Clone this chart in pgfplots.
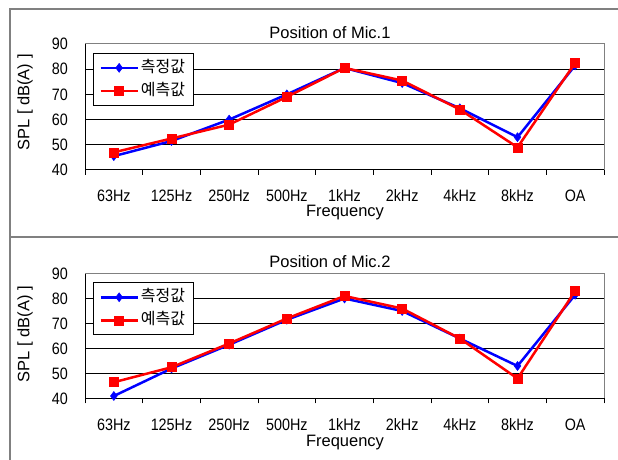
\documentclass[border=0pt]{standalone}
\usepackage{pgfplots}
\pgfplotsset{compat=1.18}
\usepackage{fontspec}
\setmainfont{Liberation Sans}
\newfontfamily\narrowfont[FakeStretch=0.87]{Liberation Sans}
\newfontfamily\kr{Noto Sans CJK KR}
\definecolor{pblue}{RGB}{0,0,255}
\definecolor{pred}{RGB}{255,0,0}
\definecolor{frame}{RGB}{128,128,128}
\newcommand{\tickfont}{\narrowfont\fontsize{16.5}{18}\selectfont}
\newcommand{\labfont}{\fontsize{16.5}{19}\selectfont}
\pgfplotsset{
  spl/.style={
    anchor=south west, width=519pt, scale only axis,
    xmin=0.5, xmax=9.5, ymin=40, ymax=90, clip=false,
    axis lines*=left, axis line style={black, line width=1pt},
    xtick={1,...,9},
    xticklabels={63Hz,125Hz,250Hz,500Hz,1kHz,2kHz,4kHz,8kHz,OA},
    major tick length=0pt,
    minor xtick={0.5,1.5,...,9.5},
    minor tick length=5pt, tick align=outside,
    minor x tick style={black, line width=1pt},
    ytick={40,50,...,90},
    ymajorgrids, grid style={black, line width=1pt},
    /pgf/number format/assume math mode=true,
    xticklabel style={font=\tickfont, anchor=base, inner sep=0pt, yshift=-31.5pt},
    yticklabel style={font=\tickfont, anchor=east, inner sep=0pt, xshift=-17pt},
    legend style={at={(rel axis cs:0.0154,0.929)}, anchor=north west,
      draw=black, line width=0.8pt, fill=white,
      font=\kr\fontsize{16}{18}\selectfont,
      inner xsep=6pt, inner ysep=5pt, row sep=4pt, column sep=0pt,
      nodes={inner sep=2pt, text height=12pt, text depth=3pt}},
    legend cell align=left,
    legend image code/.code={\draw[mark repeat=2,mark phase=2] plot coordinates {(0pt,0pt)(18.5pt,0pt)(37pt,0pt)};},
  },
  meas/.style={color=pblue, line width=2.5pt, mark=diamond*, mark size=4.5pt, mark options={solid, line width=0.5pt}},
  pred/.style={color=pred, line width=2.5pt, mark=square*, mark size=4.5pt, mark options={solid, line width=0.5pt}},
}
\begin{document}
\begin{tikzpicture}[x=1pt,y=1pt]
\useasboundingbox (0,0) rectangle (618,460);
\fill[white] (0,0) rectangle (618,460);
\draw[frame, line width=1.5pt] (10,0) -- (10,451) -- (618,451);
\draw[frame, line width=1.5pt] (10,223) -- (618,223);

% Panel 1
\begin{axis}[spl, at={(85pt,290pt)}, height=126pt]
\addplot[meas] coordinates {(1,45.5)(2,51.5)(3,60)(4,70)(5,80.5)(6,74.5)(7,64.5)(8,53)(9,81.5)};
\addplot[pred] coordinates {(1,47)(2,52.5)(3,58)(4,69)(5,80.5)(6,75.5)(7,64)(8,49)(9,82.5)};
\legend{측정값,예측값}
\draw[frame, line width=1pt] (rel axis cs:0,1) -- (rel axis cs:1,1) -- (rel axis cs:1,0);
\end{axis}
\node[anchor=base, font=\labfont] at (330,421) {Position of Mic.1};
\node[anchor=base, font=\labfont] at (345,243) {Frequency};
\node[rotate=90, font=\labfont] at (25,357.5) {SPL [ dB(A) ]};

% Panel 2
\begin{axis}[spl, at={(85pt,61.5pt)}, height=125pt]
\addplot[meas] coordinates {(1,41)(2,52)(3,61.5)(4,71.5)(5,80)(6,75)(7,64)(8,53)(9,81.5)};
\addplot[pred] coordinates {(1,46.5)(2,52.5)(3,62)(4,72)(5,81)(6,76)(7,64)(8,48)(9,83)};
\legend{측정값,예측값}
\draw[frame, line width=1pt] (rel axis cs:0,1) -- (rel axis cs:1,1) -- (rel axis cs:1,0);
\end{axis}
\node[anchor=base, font=\labfont] at (330,192) {Position of Mic.2};
\node[anchor=base, font=\labfont] at (345,13) {Frequency};
\node[rotate=90, font=\labfont] at (25,126) {SPL [ dB(A) ]};
\end{tikzpicture}
\end{document}
